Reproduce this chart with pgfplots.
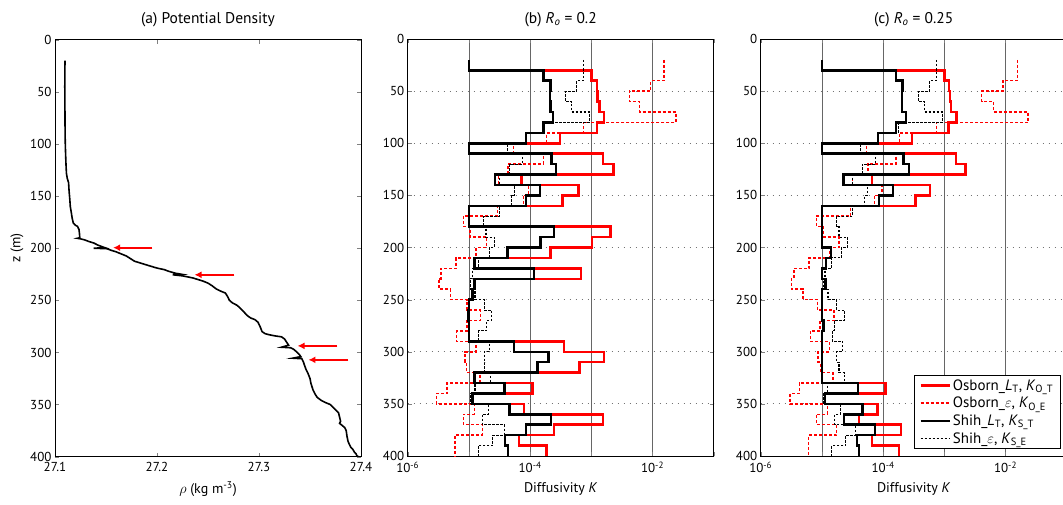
\documentclass[border=0pt]{standalone}
\usepackage{pgfplots}
\pgfplotsset{compat=1.18}
\usepackage{pgfplotstable}
\usepackage{fontspec}
\setmainfont{PT Sans}
\usetikzlibrary{arrows.meta}

% log10(K) per 10 m bin (top of bin z); last row repeats the bottom value
\pgfplotstableread{
z   RT     RE     BT     BE
20  -5.00  -1.815 -5.00  -3.13
30  -3.00  -1.815 -3.785 -3.13
40  -2.91  -2.03  -3.665 -3.24
50  -2.90  -2.38  -3.676 -3.42
60  -2.87  -2.21  -3.665 -3.32
70  -2.79  -1.62  -3.63  -3.03
80  -2.91  -3.13  -3.785 -3.77
90  -3.51  -3.73  -4.07  -4.07
100 -5.00  -4.275 -5.00  -4.37
110 -2.81  -3.785 -3.65  -4.12
120 -2.64  -4.36  -3.58  -4.33
130 -4.14  -4.52  -4.574 -4.50
140 -3.21  -4.03  -3.84  -4.25
150 -3.47  -4.11  -4.07  -4.30
160 -5.00  -4.535 -5.00  -4.50
170 -5.00  -5.09  -5.00  -4.76
180 -2.69  -4.98  -3.61  -4.72
190 -2.99  -4.71  -3.83  -4.585
200 -3.665 -4.88  -4.37  -4.67
210 -4.91  -5.21  -4.91  -4.85
220 -3.17  -5.46  -3.94  -4.94
230 -4.91  -5.49  -4.91  -4.98
240 -4.94  -5.30  -4.94  -4.90
250 -5.00  -5.03  -5.00  -4.75
260 -5.00  -4.81  -5.01  -4.63
270 -5.00  -5.03  -5.00  -4.71
280 -5.00  -5.20  -5.00  -4.84
290 -3.45  -4.88  -4.26  -4.67
300 -2.79  -5.06  -3.70  -4.75
310 -3.19  -5.04  -3.88  -4.74
320 -4.91  -4.82  -4.91  -4.64
330 -3.96  -5.36  -4.42  -4.90
340 -4.94  -5.53  -4.94  -4.98
350 -4.10  -4.91  -4.34  -4.68
360 -2.81  -5.09  -3.66  -4.78
370 -3.61  -4.78  -4.07  -4.42
380 -4.18  -5.23  -4.41  -4.61
390 -3.73  -5.23  -4.36  -4.85
400 -3.73  -5.23  -4.36  -4.85
}\tabB

\pgfplotstableread{
z   RT     RE     BT     BE
20  -5.00  -1.805 -5.00  -3.13
30  -3.00  -1.805 -3.79  -3.13
40  -2.92  -2.04  -3.68  -3.24
50  -2.91  -2.39  -3.69  -3.42
60  -2.89  -2.20  -3.69  -3.32
70  -2.80  -1.63  -3.63  -3.03
80  -2.93  -3.13  -3.79  -3.75
90  -3.53  -3.73  -4.08  -4.08
100 -5.00  -4.27  -5.00  -4.37
110 -2.81  -3.79  -3.67  -4.12
120 -2.65  -4.25  -3.58  -4.34
130 -4.18  -4.50  -4.65  -4.50
140 -3.23  -4.02  -3.84  -4.26
150 -3.47  -4.14  -4.07  -4.30
160 -5.00  -4.53  -5.00  -4.50
170 -5.00  -5.09  -5.00  -4.76
180 -5.00  -4.97  -5.00  -4.72
190 -5.00  -4.72  -5.00  -4.58
200 -4.855 -4.87  -4.855 -4.68
210 -4.93  -5.21  -4.93  -4.84
220 -5.00  -5.46  -5.00  -4.95
230 -4.94  -5.50  -4.94  -4.98
240 -5.00  -5.31  -5.00  -4.90
250 -5.00  -5.07  -5.00  -4.76
260 -5.00  -4.80  -5.00  -4.63
270 -4.97  -5.03  -4.97  -4.80
280 -5.00  -5.19  -5.00  -4.83
290 -5.00  -4.88  -5.00  -4.66
300 -5.00  -5.06  -5.00  -4.76
310 -5.00  -5.02  -5.00  -4.72
320 -5.00  -4.82  -5.00  -4.63
330 -3.965 -5.37  -4.41  -4.91
340 -4.95  -5.52  -4.95  -4.98
350 -4.095 -4.91  -4.34  -4.70
360 -4.39  -5.09  -4.64  -4.79
370 -3.71  -4.76  -4.13  -4.45
380 -4.18  -5.22  -4.43  -4.61
390 -3.74  -5.22  -4.39  -4.84
400 -3.74  -5.22  -4.39  -4.84
}\tabC

\tikzset{
  RTs/.style={color=red, line width=2.5pt, solid},
  REs/.style={color=red, line width=1.5pt, dash pattern=on 3pt off 2pt},
  BTs/.style={color=black, line width=2.5pt, solid},
  BEs/.style={color=black, line width=1.1pt, dash pattern=on 2.5pt off 1.5pt},
  arr/.style={color=red, line width=2pt, solid, -{Latex[length=7pt,width=7pt]}},
  rho/.style={color=black, line width=1.6pt, solid},
}
\pgfplotsset{
  every axis/.append style={
    scale only axis, width=306pt, height=417pt,
    y dir=reverse, ymin=0, ymax=400, ytick={0,50,...,400},
    tick label style={font=\fontsize{13}{15}\selectfont},
    xticklabel style={yshift=-2pt},
    label style={font=\fontsize{14}{16}\selectfont},
    xlabel style={yshift=-3pt},
    title style={font=\fontsize{15.5}{18}\selectfont, yshift=3pt},
    /pgf/number format/assume math mode=true,
    axis line style={line width=0.8pt},
    major tick length=4pt,
  },
  kpanel/.style={
    xmin=-6, xmax=-1,
    xtick={-6,-5,-4,-3,-2,-1},
    xticklabels={10\textsuperscript{-6},,10\textsuperscript{-4},,10\textsuperscript{-2},},
    xmajorgrids, ymajorgrids,
    x grid style={black!60, line width=0.7pt},
    y grid style={black!55, line width=0.8pt, dash pattern=on 0.8pt off 5.2pt},
    xlabel={Diffusivity \textit{K}},
  },
}

\begin{document}
\begin{tikzpicture}[x=1pt,y=1pt]
\useasboundingbox (0pt,0pt) rectangle (1063pt,504pt);

% (a)
\begin{axis}[at={(55pt,47.3pt)}, anchor=south west,
  xmin=27.1, xmax=27.4, xtick={27.1,27.2,27.3,27.4},
  xticklabels={27.1,27.2,27.3,27.4},
  title={(a) Potential Density},
  xlabel={$\rho$ (kg m\textsuperscript{-3})},
  ylabel={z (m)},
]
\addplot[rho] coordinates {
(27.1098,20) (27.1097,30) (27.1096,45) (27.1097,60) (27.1098,75) (27.1099,90)
(27.1101,100) (27.1104,110) (27.1108,120) (27.1112,128) (27.1120,133) (27.1133,137)
(27.1138,145) (27.1145,153) (27.1150,160) (27.1160,166) (27.1170,172) (27.1180,176)
(27.1200,178) (27.1220,179) (27.1235,182) (27.1240,186) (27.1243,190) (27.1220,190.5)
(27.1250,191) (27.1290,192) (27.1330,193.5) (27.1380,195) (27.1420,197) (27.1460,198.5)
(27.1490,199.5) (27.1380,200) (27.1510,200.5) (27.1550,202) (27.1600,203.5) (27.1650,205.5)
(27.1700,207.5) (27.1740,210) (27.1780,212.5) (27.1830,214) (27.1880,215.5) (27.1930,217)
(27.1980,218.5) (27.2020,219.5) (27.2070,220.5) (27.2110,222) (27.2180,224) (27.2240,225)
(27.2155,225.5) (27.2250,226.5) (27.2300,227.5) (27.2350,228.5) (27.2400,230) (27.2450,231.5)
(27.2500,233.5) (27.2540,236) (27.2580,239) (27.2620,241) (27.2670,243) (27.2690,246)
(27.2710,250) (27.2740,252.5) (27.2780,254.5) (27.2800,256) (27.2830,259) (27.2860,262)
(27.2890,265) (27.2920,267) (27.2960,268.5) (27.2990,271) (27.3010,275) (27.3030,280)
(27.3060,282) (27.3100,283) (27.3150,284) (27.3220,285) (27.3250,287) (27.3270,290)
(27.3290,293) (27.3220,295) (27.3310,295.5) (27.3340,297) (27.3370,299.5) (27.3395,302)
(27.3410,304) (27.3330,305.5) (27.3420,306) (27.3435,309) (27.3445,312) (27.3460,316)
(27.3480,320) (27.3500,325) (27.3510,330) (27.3530,336) (27.3550,340) (27.3570,343)
(27.3610,346) (27.3650,348) (27.3700,350) (27.3730,353) (27.3760,356) (27.3780,358)
(27.3790,362) (27.3800,366) (27.3790,368) (27.3815,370) (27.3840,372) (27.3855,375)
(27.3862,380) (27.3872,385) (27.3885,388) (27.3900,391) (27.3920,393) (27.3935,395.5)
(27.3950,397) (27.3960,399) (27.3974,400)};
\addplot[arr] coordinates {(27.1954,199.5) (27.157,199.5)};
\addplot[arr] coordinates {(27.2759,225.5) (27.2368,225.5)};
\addplot[arr] coordinates {(27.3769,293.7) (27.3378,293.7)};
\addplot[arr] coordinates {(27.3876,307.1) (27.3485,307.1)};
\end{axis}

% (b)
\begin{axis}[at={(407.7pt,48pt)}, anchor=south west, kpanel,
  title={(b) \textit{R\textsubscript{o}} = 0.2},
]
\addplot[RTs, const plot mark right] table[x=RT, y=z] {\tabB};
\addplot[REs, const plot mark right] table[x=RE, y=z] {\tabB};
\addplot[BTs, const plot mark right] table[x=BT, y=z] {\tabB};
\addplot[BEs, const plot mark right] table[x=BE, y=z] {\tabB};
\end{axis}

% (c)
\begin{axis}[at={(760.7pt,48pt)}, anchor=south west, kpanel,
  title={(c) \textit{R\textsubscript{o}} = 0.25},
  legend style={at={(0.98,0.017)}, anchor=south east, draw=black, line width=0.6pt,
    font=\fontsize{15}{16}\selectfont, row sep=1.5pt, inner xsep=5pt, inner ysep=2pt},
  legend cell align=left,
  legend image code/.code={\draw[#1] (0pt,0pt) -- (29pt,0pt);},
]
\addplot[RTs, const plot mark right] table[x=RT, y=z] {\tabC};
\addlegendentry{Osborn\_\textit{L}\textsubscript{T}, \textit{K}\textsubscript{O\_T}}
\addplot[REs, const plot mark right] table[x=RE, y=z] {\tabC};
\addlegendentry{Osborn\_$\varepsilon$, \textit{K}\textsubscript{O\_E}}
\addplot[BTs, const plot mark right] table[x=BT, y=z] {\tabC};
\addlegendentry{Shih\_\textit{L}\textsubscript{T}, \textit{K}\textsubscript{S\_T}}
\addplot[BEs, const plot mark right] table[x=BE, y=z] {\tabC};
\addlegendentry{Shih\_$\varepsilon$, \textit{K}\textsubscript{S\_E}}
\end{axis}
\end{tikzpicture}
\end{document}
